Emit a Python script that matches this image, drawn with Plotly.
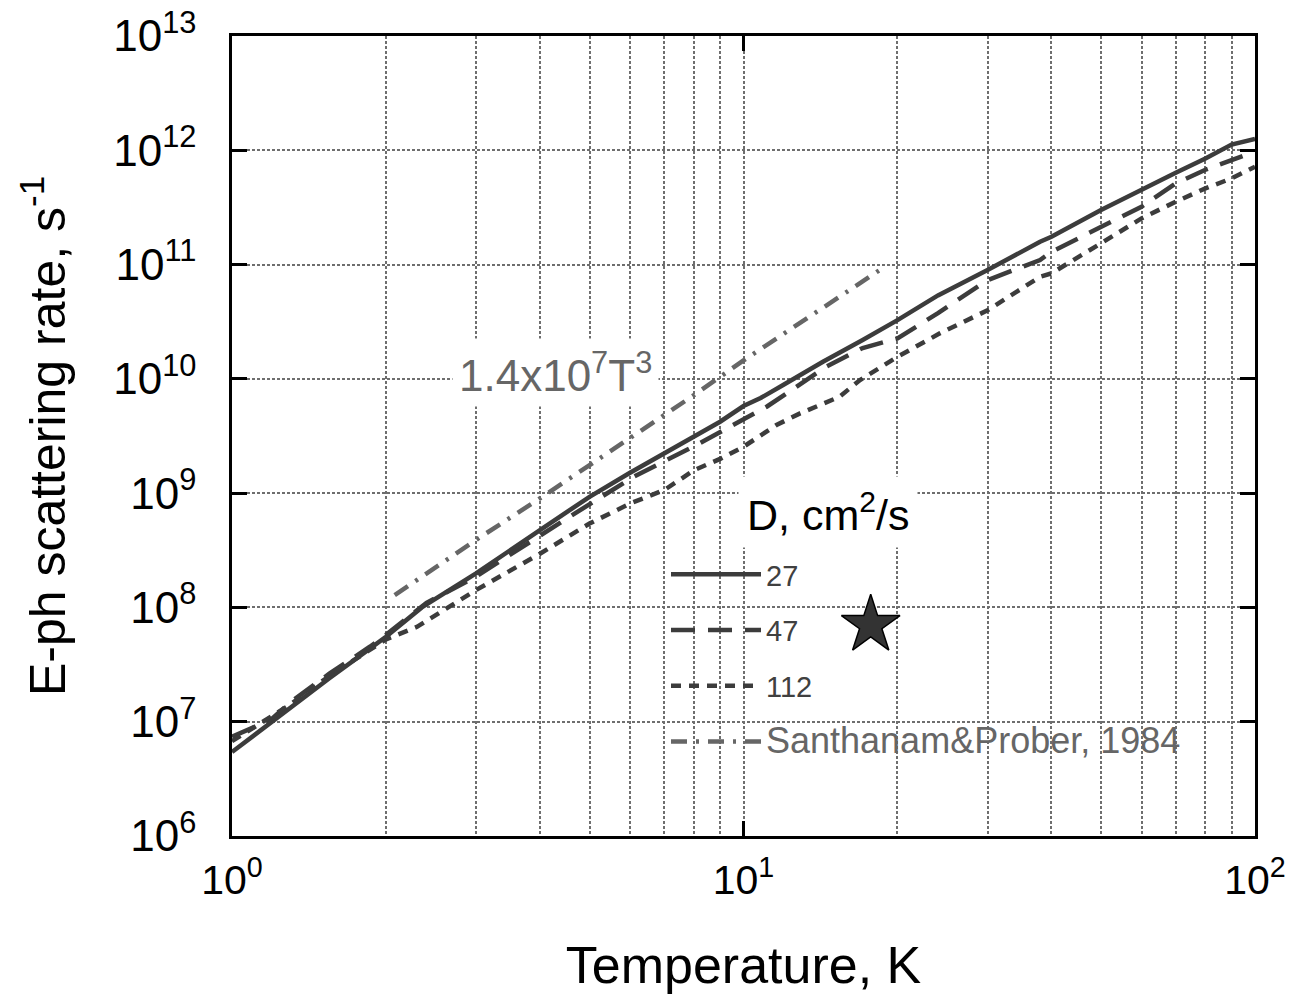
import plotly.graph_objects as go

# ---- data ----
T_27 = [1, 1.19, 1.3, 1.55, 1.86, 2, 2.35, 3, 4, 5, 6, 7, 8, 9, 10, 10.8, 12, 14.3, 17.1, 20, 24, 30, 38, 40, 50, 60, 70, 80, 90, 100]
logR_27 = [6.735, 6.99, 7.13, 7.38, 7.64, 7.744, 8.0, 8.298, 8.677, 8.968, 9.178, 9.348, 9.493, 9.625, 9.762, 9.832, 9.95, 10.15, 10.34, 10.514, 10.73, 10.952, 11.2, 11.243, 11.477, 11.658, 11.803, 11.929, 12.05, 12.1]

T_47 = [1, 1.19, 1.3, 1.55, 1.86, 2, 2.4, 3, 4.52, 6.08, 8.2, 11.1, 14.5, 17.1, 20, 24, 30, 38, 40, 50, 60, 70, 80, 90, 100]
logR_47 = [6.869, 7.015, 7.17, 7.42, 7.656, 7.76, 8.04, 8.27, 8.78, 9.14, 9.435, 9.756, 10.106, 10.27, 10.354, 10.575, 10.864, 11.04, 11.112, 11.33, 11.506, 11.71, 11.83, 11.914, 11.987]

T_112 = [1, 1.3, 1.55, 2, 2.3, 3, 4, 5, 6, 7, 8, 9, 10, 10.8, 11.6, 12.9, 15.4, 16.9, 20, 24.2, 30, 38, 40, 50, 60, 70, 80, 90, 100]
logR_112 = [6.83, 7.15, 7.40, 7.72, 7.83, 8.152, 8.47, 8.734, 8.909, 9.027, 9.2, 9.3, 9.406, 9.508, 9.596, 9.698, 9.843, 9.99, 10.193, 10.398, 10.6, 10.893, 10.923, 11.186, 11.404, 11.55, 11.667, 11.754, 11.856]

T_sp = [2.08, 3, 4, 5, 6, 8, 10, 14, 18.9]
R_sp = [1.28e8, 3.9e8, 9.0e8, 1.75e9, 3.0e9, 7.2e9, 1.45e10, 3.9e10, 9.6e10]

star_T = [17.73]
star_R = [7.0e7]

x_tickvals = [1, 10, 100]
x_ticktext = ["10<sup>0</sup>", "10<sup>1</sup>", "10<sup>2</sup>"]
y_tickvals = [1e6, 1e7, 1e8, 1e9, 1e10, 1e11, 1e12, 1e13]
y_ticktext = ["10<sup>%d</sup>" % e for e in range(6, 14)]

R_27 = [10 ** v for v in logR_27]
R_47 = [10 ** v for v in logR_47]
R_112 = [10 ** v for v in logR_112]

CURVE = "#3c3c3c"
GRAY = "#666666"
GRID = "#6e6e6e"
FONT = "Liberation Sans, Arial, sans-serif"

fig = go.Figure()
fig.add_trace(go.Scatter(x=T_27, y=R_27, mode="lines", name="27", legendgroup="a",
                         line=dict(color=CURVE, width=4.5)))
fig.add_trace(go.Scatter(x=T_47, y=R_47, mode="lines", name="47", legendgroup="b",
                         line=dict(color=CURVE, width=4.5, dash="24px,13px")))
fig.add_trace(go.Scatter(x=T_112, y=R_112, mode="lines", name="112", legendgroup="c",
                         line=dict(color=CURVE, width=4.5, dash="10px,8px")))
fig.add_trace(go.Scatter(x=T_sp, y=R_sp, mode="lines", legendgroup="d",
                         name='<span style="font-size:36px;color:#666666">Santhanam&Prober, 1984</span>',
                         line=dict(color=GRAY, width=4.5, dash="16px,9px,3px,9px")))
fig.add_trace(go.Scatter(x=star_T, y=star_R, mode="markers", showlegend=False,
                         marker=dict(symbol="star", size=44, color="#333333",
                                     line=dict(color="black", width=1.5))))

# page body margin is removed (see post_script), so the figure sits at (0, 0)
W, H = 1293, 998
PL, PR, PT, PB = 232, 1255, 36, 836          # plot area in screen pixels
L, R, TOP, B = PL, W - PR, PT, H - PB
pw, ph = PR - PL, PB - PT


def px(x):
    return (x - PL) / pw


def py(y):
    return (PB - y) / ph


fig.add_shape(type="rect", xref="paper", yref="paper", layer="between",
              x0=px(655), x1=px(1199), y0=py(773), y1=py(545),
              fillcolor="white", line=dict(width=0))

fig.add_annotation(xref="paper", yref="paper", x=px(555), y=py(372), xanchor="center", yanchor="middle",
                   text="1.4x10<sup>7</sup>T<sup>3</sup>", showarrow=False,
                   font=dict(size=44, color=GRAY, family=FONT), bgcolor="white", borderpad=6)
fig.add_annotation(xref="paper", yref="paper", x=px(828), y=py(512), xanchor="center", yanchor="middle",
                   text="D, cm<sup>2</sup>/s", showarrow=False,
                   font=dict(size=43, color="black", family=FONT), bgcolor="white", borderpad=8)

axis_common = dict(showline=True, linecolor="black", linewidth=2.5, mirror="ticks",
                   ticks="inside", ticklen=15, tickwidth=2.5, tickcolor="black",
                   showgrid=True, gridcolor=GRID, gridwidth=2, griddash="3px,2px",
                   zeroline=False, ticklabeloverflow="allow")

fig.update_xaxes(type="log", range=[0, 2], tickmode="array", tickvals=x_tickvals, ticktext=x_ticktext,
                 minor=dict(dtick="D1", showgrid=True, gridcolor=GRID, gridwidth=2,
                            griddash="3px,2px", ticks=""),
                 tickfont=dict(size=41, color="black", family=FONT),
                 title=dict(text="Temperature, K", font=dict(size=52, color="black", family=FONT), standoff=45),
                 ticklabelstandoff=6, **axis_common)
fig.update_yaxes(type="log", range=[6, 13], tickmode="array", tickvals=y_tickvals, ticktext=y_ticktext,
                 tickfont=dict(size=44, color="black", family=FONT),
                 title=dict(text="E-ph scattering rate, s<sup>-1</sup>", font=dict(size=50, color="black", family=FONT), standoff=32),
                 ticklabelstandoff=24, **axis_common)

fig.update_layout(
    width=W, height=H,
    margin=dict(l=L, r=R, t=TOP, b=B, autoexpand=False),
    plot_bgcolor="white", paper_bgcolor="white",
    font=dict(family=FONT, color="black"),
    showlegend=True,
    legend=dict(x=px(666), y=py(549), xanchor="left", yanchor="top",
                bgcolor="rgba(0,0,0,0)", borderwidth=0, itemwidth=90,
                tracegroupgap=15, font=dict(size=29, color="#404040", family=FONT)),
)

fig.write_html("out.html", config={"displayModeBar": False},
               post_script="document.body.style.margin='0';")
